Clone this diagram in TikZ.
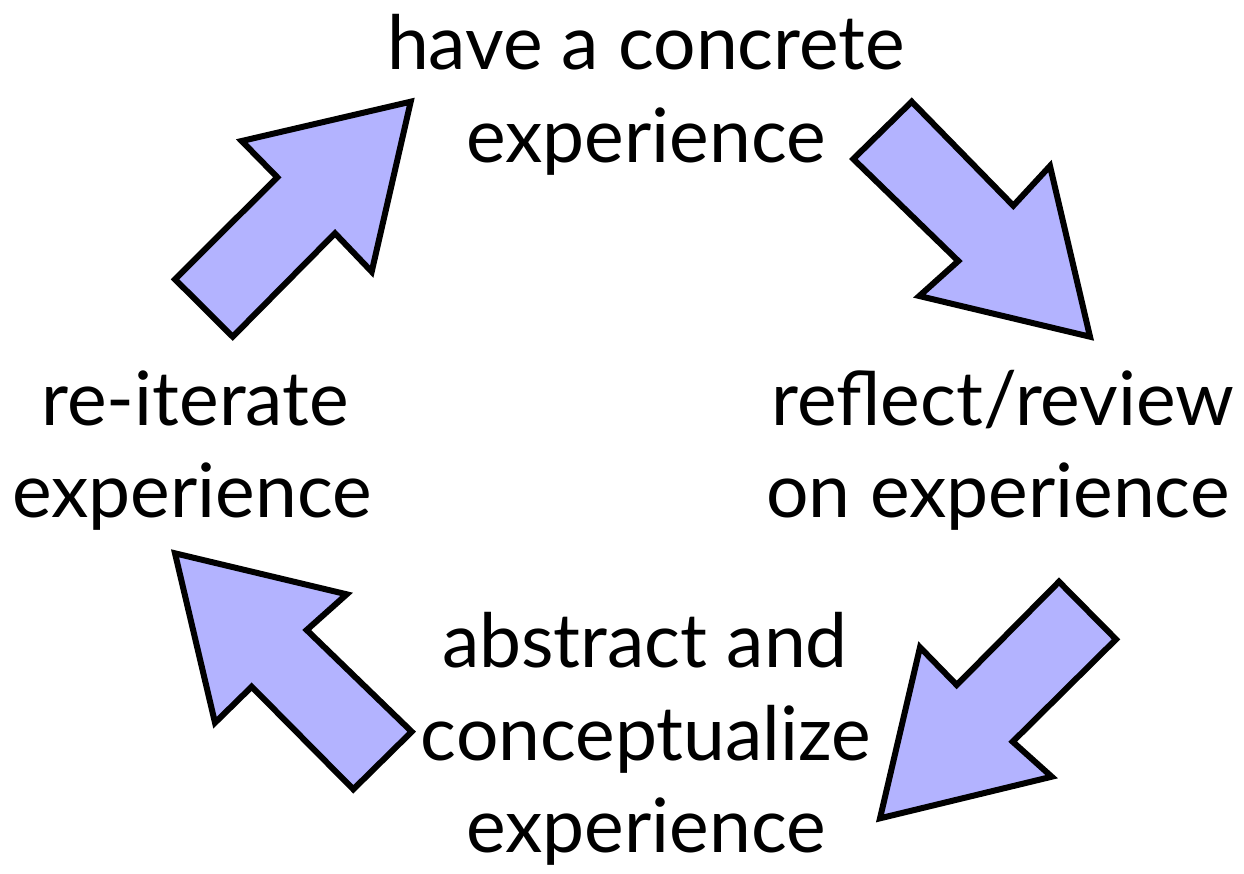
\documentclass[tikz,border=0pt]{standalone}
\usepackage{fontspec}
\setmainfont{Lato}
\definecolor{arrowfill}{RGB}{179,179,255}
\tikzset{
  lbl/.style={anchor=base, inner sep=0pt, font=\fontsize{75}{90}\selectfont},
  blockarrow/.style={draw=black, fill=arrowfill, line width=6pt, line join=miter}
}
\begin{document}
\begin{tikzpicture}[x=1pt,y=-1pt]
\useasboundingbox (0,0) rectangle (1244,873);
% labels
\node[lbl] (top1) at (646,69) {have a concrete};
\node[lbl] (top2) at (646,162) {experience};
\node[lbl] (left1) at (195,425) {re-iterate};
\node[lbl] (left2) at (192,517) {experience};
\node[lbl] (right1) at (1003,425) {reflect/review};
\node[lbl] (right2) at (998,517) {on experience};
\node[lbl] (bot1) at (645,667) {abstract and};
\node[lbl] (bot2) at (646,760) {conceptualize};
\node[lbl] (bot3) at (646,852) {experience};
% block arrows
\draw[blockarrow] (410.7,101.7) -- (241.7,141) -- (277.3,177.3) -- (175,279.3)
  -- (232.7,336.7) -- (335,233.3) -- (371.7,271.7) -- cycle;
\draw[blockarrow] (1090,336.7) -- (919.3,296) -- (958.3,261) -- (853.3,159)
  -- (911.7,101.7) -- (1013.3,205.7) -- (1050,166) -- cycle;
\draw[blockarrow] (880,818.3) -- (920,647.3) -- (956.7,685) -- (1059,581.7)
  -- (1116,639.3) -- (1012.7,741.7) -- (1051.7,776.7) -- cycle;
\draw[blockarrow] (175,553.3) -- (346.7,594.3) -- (306.7,630) -- (411.7,731.7)
  -- (353.3,789.3) -- (251.7,686.7) -- (215,722.7) -- cycle;
\end{tikzpicture}
\end{document}
